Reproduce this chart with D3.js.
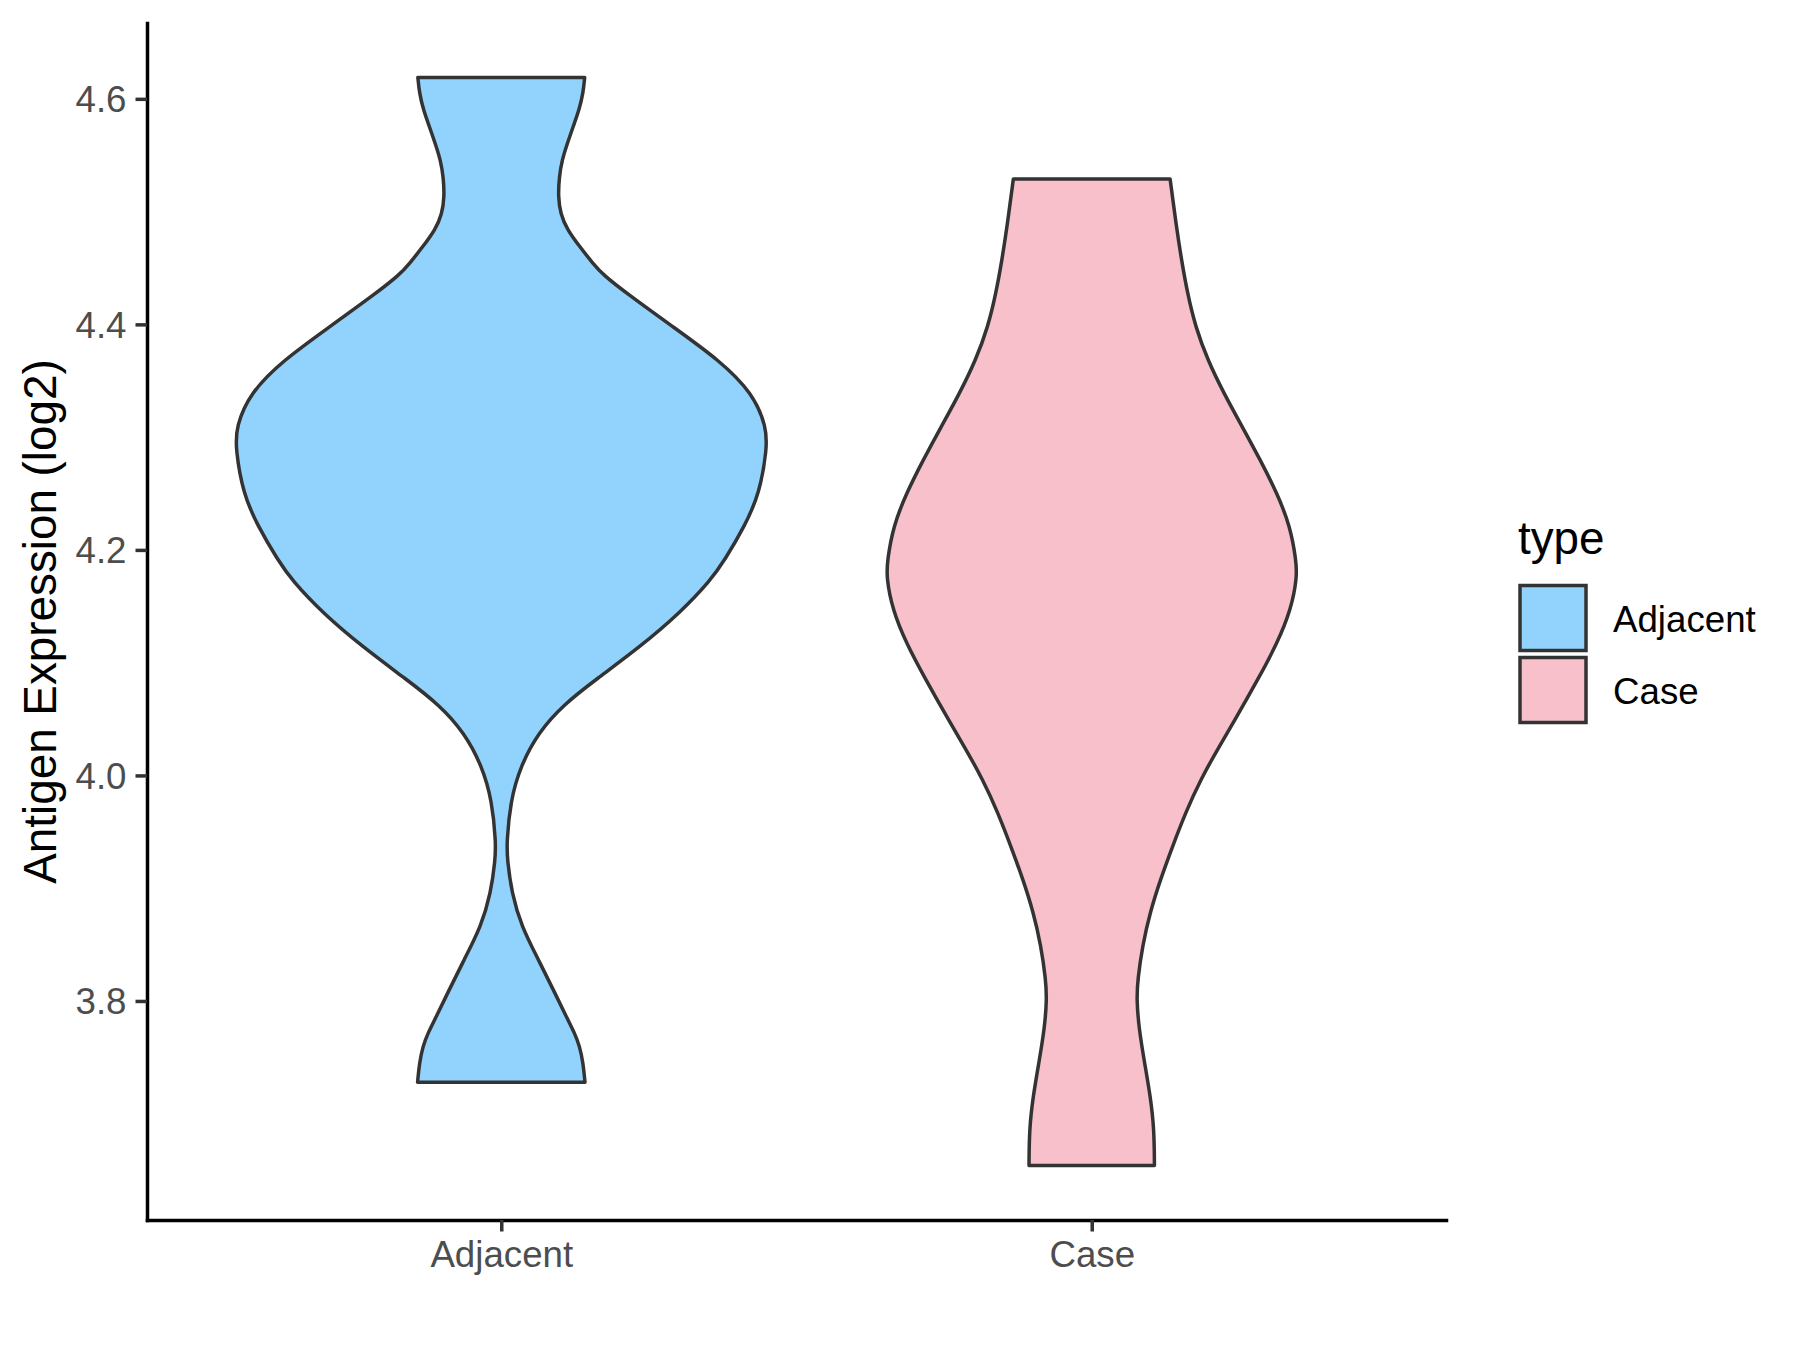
<!DOCTYPE html>
<html>
<head>
<meta charset="utf-8">
<script src="https://cdn.jsdelivr.net/npm/d3@7"></script>
<style>
  body { margin: 0; background: #fff; }
  svg { display: block; font-family: "Liberation Sans", Arial, Helvetica, sans-serif; }
</style>
</head>
<body>
<svg id="chart" width="1800" height="1350"></svg>
<script>
// categories and legend
var categories = ["Adjacent", "Case"];
var fillColors = ["#92D3FE", "#F7C0CB"];
var yTicks = [3.8, 4.0, 4.2, 4.4, 4.6];

// violin outlines: expression value and relative density
var adjacentExpr = [4.619, 4.605, 4.590, 4.575, 4.560, 4.546, 4.531, 4.513, 4.498, 4.484, 4.469, 4.454,
    4.444, 4.428, 4.398, 4.368, 4.339, 4.309, 4.290, 4.250, 4.221, 4.191, 4.173, 4.144, 4.114, 4.085,
    4.063, 4.038, 4.008, 3.978, 3.940, 3.925, 3.896, 3.866, 3.837, 3.807, 3.786, 3.772, 3.760, 3.745, 3.728];
var adjacentDensity = [0.314, 0.308, 0.293, 0.270, 0.248, 0.229, 0.218, 0.214, 0.223, 0.248, 0.295, 0.345,
    0.383, 0.469, 0.645, 0.822, 0.946, 0.998, 1.000, 0.972, 0.916, 0.841, 0.788, 0.672, 0.522, 0.356,
    0.235, 0.139, 0.072, 0.035, 0.020, 0.023, 0.039, 0.076, 0.139, 0.202, 0.245, 0.275, 0.295, 0.308, 0.315];

var caseExpr = [4.529, 4.486, 4.457, 4.428, 4.398, 4.368, 4.339, 4.309, 4.280, 4.250, 4.221, 4.191,
    4.176, 4.147, 4.117, 4.085, 4.055, 4.025, 3.996, 3.967, 3.937, 3.908, 3.879, 3.849, 3.819, 3.801,
    3.775, 3.745, 3.715, 3.686, 3.654];
var caseDensity = [0.295, 0.319, 0.338, 0.360, 0.390, 0.437, 0.497, 0.567, 0.634, 0.698, 0.747, 0.769,
    0.773, 0.750, 0.698, 0.625, 0.553, 0.478, 0.409, 0.353, 0.304, 0.259, 0.220, 0.191, 0.173, 0.169,
    0.178, 0.199, 0.221, 0.235, 0.236];

var groups = [
    { name: categories[0], expr: adjacentExpr, dens: adjacentDensity, fill: fillColors[0] },
    { name: categories[1], expr: caseExpr, dens: caseDensity, fill: fillColors[1] }
];

var panel = { left: 147, right: 1446, top: 23, bottom: 1220 };
var svg = d3.select("#chart");

// y domain like ggplot: data range plus 5% each side
var allExpr = adjacentExpr.concat(caseExpr);
var yMin = d3.min(allExpr), yMax = d3.max(allExpr);
var pad = (yMax - yMin) * 0.05;
var y = d3.scaleLinear().domain([yMin - pad, yMax + pad]).range([panel.bottom, panel.top]);

var x = d3.scalePoint().domain(categories).range([panel.left, panel.right]).padding(0.6);
var w = d3.scaleLinear().domain([0, 1]).range([0, x.step() * 0.45]);

// violins
groups.forEach(function (g) {
    var pts = g.expr.map(function (v, i) { return { v: v, d: g.dens[i] }; });
    var cx = x(g.name);
    var area = d3.area()
        .y(function (p) { return y(p.v); })
        .x0(function (p) { return cx - w(p.d); })
        .x1(function (p) { return cx + w(p.d); })
        .curve(d3.curveBasis);
    svg.append("path")
        .datum(pts)
        .attr("d", area)
        .attr("fill", g.fill)
        .attr("stroke", "#333333")
        .attr("stroke-width", 3.5)
        .attr("stroke-linejoin", "round");
});

// axes
var yAxis = d3.axisLeft(y).tickValues(yTicks).tickFormat(d3.format(".1f"))
    .tickSizeInner(11.5).tickSizeOuter(0).tickPadding(9);
var xAxis = d3.axisBottom(x).tickSizeInner(11.5).tickSizeOuter(0).tickPadding(9);

var gy = svg.append("g").attr("transform", "translate(" + panel.left + ",0)").call(yAxis);
var gx = svg.append("g").attr("transform", "translate(0," + panel.bottom + ")").call(xAxis);

[gx, gy].forEach(function (g) {
    g.select(".domain").attr("stroke", "#000").attr("stroke-width", 3.5).attr("stroke-linecap", "square");
    g.selectAll(".tick line").attr("stroke", "#333333").attr("stroke-width", 3.5);
    g.selectAll(".tick text").attr("fill", "#4D4D4D").style("font-size", "36.7px")
        .style("font-family", "'Liberation Sans', Arial, sans-serif");
});
gy.selectAll(".tick text").attr("dy", "0.35em");
gx.selectAll(".tick text").attr("dy", null).attr("y", 47);

// y title
svg.append("text")
    .attr("transform", "translate(56," + ((panel.top + panel.bottom) / 2) + ") rotate(-90)")
    .attr("text-anchor", "middle")
    .style("font-size", "45.8px")
    .attr("fill", "#000")
    .text("Antigen Expression (log2)");

// legend
var legend = svg.append("g").attr("transform", "translate(1518,0)");
legend.append("text")
    .attr("x", 0).attr("y", 554)
    .style("font-size", "45.8px")
    .text("type");

var key = legend.selectAll(".key")
    .data(groups)
    .enter()
    .append("g")
    .attr("class", "key")
    .attr("transform", function (d, i) { return "translate(0," + (583 + i * 72) + ")"; });

key.append("rect")
    .attr("x", 2).attr("y", 2.5)
    .attr("width", 66).attr("height", 65)
    .attr("fill", function (d) { return d.fill; })
    .attr("stroke", "#333333")
    .attr("stroke-width", 3.5);

key.append("text")
    .attr("x", 95).attr("y", 36)
    .attr("dy", "0.35em")
    .style("font-size", "36.7px")
    .text(function (d) { return d.name; });
</script>
</body>
</html>
